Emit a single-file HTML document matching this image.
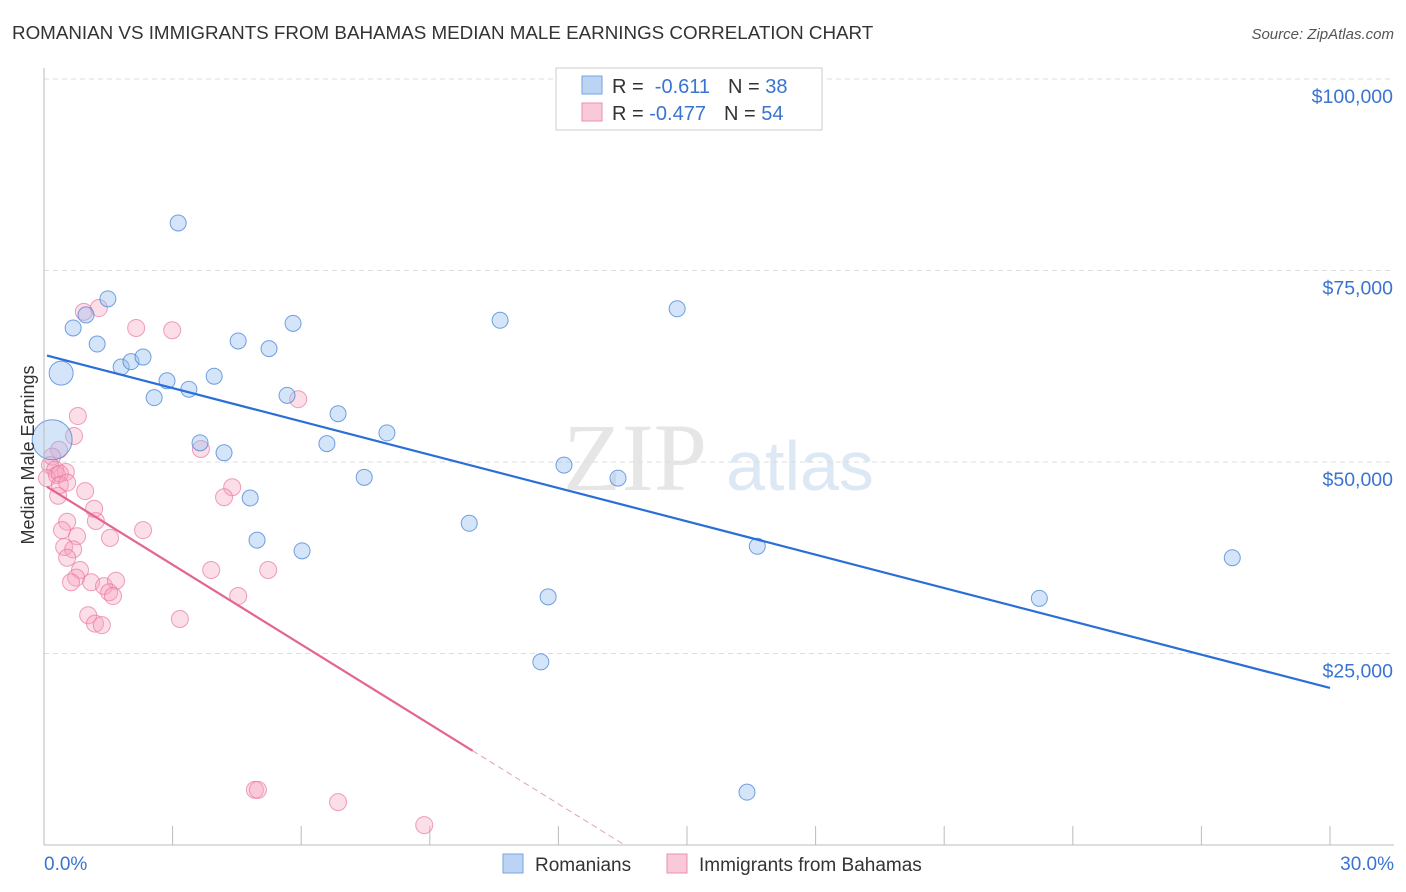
<!DOCTYPE html>
<html><head><meta charset="utf-8"><style>
body{margin:0;background:#fff;font-family:"Liberation Sans",sans-serif;}
#wrap{position:relative;width:1406px;height:892px;overflow:hidden;}
</style></head><body>
<div id="wrap">
<svg id="svg" width="1406" height="892" xmlns="http://www.w3.org/2000/svg">
<text x="12" y="39" font-size="18.8" fill="#333">ROMANIAN VS IMMIGRANTS FROM BAHAMAS MEDIAN MALE EARNINGS CORRELATION CHART</text>
<text x="1394" y="39" font-size="15" fill="#555" font-style="italic" text-anchor="end">Source: ZipAtlas.com</text>
<text x="635" y="490" font-size="96" fill="#e6e6e6" font-family="Liberation Serif,serif" text-anchor="middle">ZIP</text>
<text x="800" y="490" font-size="70" fill="#dde8f5" text-anchor="middle">atlas</text>
<g id="grid"></g><g id="pts"></g><g id="lines"></g>
<line x1="44" y1="68" x2="44" y2="845" stroke="#bbb"/>
<line x1="44" y1="845" x2="1394" y2="845" stroke="#bbb"/>
<text x="44" y="870" font-size="19" fill="#3a74d0">0.0%</text>
<text x="1394" y="870" font-size="19" fill="#3a74d0" text-anchor="end">30.0%</text>
<text transform="translate(34,455) rotate(-90)" font-size="18" fill="#333" text-anchor="middle">Median Male Earnings</text>
<g>
<rect x="556" y="68" width="266" height="62" fill="#fff" stroke="#ccc"/>
<rect x="582" y="76" width="20" height="18" fill="#bcd4f4" stroke="#7aa3e0"/>
<rect x="582" y="103" width="20" height="18" fill="#f9c9d8" stroke="#eb90ae"/>
<text x="612" y="93" font-size="20" fill="#333">R = <tspan fill="#3a74d0">&#160;-0.611</tspan><tspan dx="18">N = </tspan><tspan fill="#3a74d0">38</tspan></text>
<text x="612" y="120" font-size="20" fill="#333">R = <tspan fill="#3a74d0">-0.477</tspan><tspan dx="18">N = </tspan><tspan fill="#3a74d0">54</tspan></text>
</g>
<g>
<rect x="503" y="854" width="20" height="19" fill="#bcd4f4" stroke="#7aa3e0"/>
<text x="535" y="871" font-size="19" fill="#333">Romanians</text>
<rect x="667" y="854" width="20" height="19" fill="#f9c9d8" stroke="#eb90ae"/>
<text x="699" y="871" font-size="19" fill="#333">Immigrants from Bahamas</text>
</g>
</svg>
</div>
<script>
const yTicks=[25000,50000,75000,100000];
const yTickLabels=["$25,000","$50,000","$75,000","$100,000"];
const xTicks=[0,3,6,9,12,15,18,21,24,27,30];
const blueX=[3.13,1.49,0.98,0.68,1.24,0.40,1.80,2.03,2.31,2.87,3.38,2.57,3.97,4.53,5.25,5.81,5.67,6.86,6.60,3.64,4.20,4.81,4.97,6.02,8.00,7.47,0.19,9.92,10.64,12.13,13.39,11.76,11.59,14.77,16.64,16.40,23.22,27.72];
const blueY=[81.2,71.3,69.2,67.5,65.4,61.6,62.4,63.1,63.7,60.6,59.5,58.4,61.2,65.8,64.8,68.1,58.7,56.3,52.4,52.5,51.2,45.3,39.8,38.4,53.8,48.0,52.9,42.0,68.5,49.6,47.9,32.4,23.9,70.0,39.0,6.9,32.2,37.5];
const blueR=[8,8,8,8,8,12,8,8,8,8,8,8,8,8,8,8,8,8,8,8,8,8,8,8,8,8,20,8,8,8,8,8,8,8,8,8,8,8];
const pinkX=[0.93,1.28,2.15,2.99,5.93,0.79,0.70,0.35,3.66,0.19,0.14,0.26,0.51,0.30,0.07,0.37,0.33,0.96,4.39,4.20,0.54,0.42,1.21,1.17,2.31,0.77,1.54,0.47,0.68,0.54,0.84,0.75,0.63,1.10,1.40,1.68,1.52,1.61,3.90,5.23,4.53,1.03,3.17,1.19,1.35,4.92,4.99,6.86,8.87,0.37,0.54];
const pinkY=[69.6,70.1,67.5,67.2,58.2,56.0,53.4,51.6,51.7,50.7,49.6,49.0,48.7,48.3,47.9,48.5,45.6,46.2,46.7,45.4,42.2,41.1,42.3,43.9,41.1,40.3,40.1,38.9,38.6,37.5,35.9,34.9,34.3,34.3,33.8,34.5,33.0,32.5,35.9,35.9,32.5,30.0,29.5,28.9,28.7,7.2,7.2,5.6,2.6,47.0,47.3];
const blueLine=[64.0,-1.45];
const pinkLine=[47.0,-3.47];
const sx=v=>44+v/30*1286;
const sy=k=>845-k*1000/25000*191.5;
const NS="http://www.w3.org/2000/svg";
function mk(tag,attrs,parent){const e=document.createElementNS(NS,tag);for(const k in attrs)e.setAttribute(k,attrs[k]);document.getElementById(parent).appendChild(e);return e;}
yTicks.forEach((t,i)=>{
 const y=sy(t/1000);
 const l=mk('line',{x1:44,x2:1394,y1:y,y2:y,stroke:'#ddd','stroke-dasharray':'5,4'},'grid');
 
 
 const tx=mk('text',{x:1393,y:y+24,'font-size':19.5,fill:'#3a74d0','text-anchor':'end'},'grid');
 tx.textContent=yTickLabels[i];
 
 
});
const topGrid=mk('line',{x1:44,x2:1394,y1:sy(100),y2:sy(100),stroke:'#ddd','stroke-dasharray':'5,4'},'grid');


xTicks.forEach(t=>{
 const x=sx(t);
 const l=mk('line',{x1:x,x2:x,y1:826,y2:845,stroke:'#bbb'},'grid');
 
 
});
pinkX.forEach((v,i)=>{
 const c=mk('circle',{cx:sx(v),cy:sy(pinkY[i]),r:8.5,fill:'rgba(245,160,190,0.35)',stroke:'rgba(232,120,160,0.7)','stroke-width':1},'pts');
 
 
});
blueX.forEach((v,i)=>{
 const c=mk('circle',{cx:sx(v),cy:sy(blueY[i]),r:blueR[i],fill:'rgba(150,190,240,0.4)',stroke:'rgba(70,130,215,0.75)','stroke-width':1},'pts');
 
 
});
const bl=mk('line',{x1:sx(0.07),y1:sy(blueLine[0]+blueLine[1]*0.07),x2:sx(30),y2:sy(blueLine[0]+blueLine[1]*30),stroke:'#2a6fd6','stroke-width':2.2},'lines');


const pl=mk('line',{x1:sx(0.07),y1:sy(pinkLine[0]+pinkLine[1]*0.07),x2:sx(10),y2:sy(pinkLine[0]+pinkLine[1]*10),stroke:'#e3668f','stroke-width':2.2},'lines');


const xEnd=-pinkLine[0]/pinkLine[1];
const pd=mk('line',{x1:sx(10),y1:sy(pinkLine[0]+pinkLine[1]*10),x2:sx(xEnd),y2:sy(0),stroke:'#e3a0b8','stroke-width':1,'stroke-dasharray':'6,4'},'lines');


</script>
</body></html>
